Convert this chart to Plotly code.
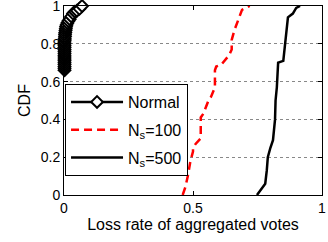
import plotly.graph_objects as go

# ---- data ----
normal_x = [0.002, 0.002, 0.002, 0.002, 0.002, 0.002, 0.002, 0.002, 0.002, 0.002,
            0.002, 0.002, 0.002, 0.002, 0.002, 0.002, 0.003, 0.003, 0.004, 0.004,
            0.005, 0.006, 0.007, 0.008, 0.010, 0.013, 0.017, 0.022, 0.028, 0.035,
            0.042, 0.050, 0.060, 0.070]
normal_y = [0.66, 0.67, 0.68, 0.69, 0.70, 0.71, 0.72, 0.73, 0.74, 0.75,
            0.76, 0.77, 0.78, 0.79, 0.80, 0.81, 0.82, 0.83, 0.84, 0.85,
            0.86, 0.87, 0.88, 0.89, 0.90, 0.91, 0.92, 0.93, 0.945, 0.96,
            0.97, 0.975, 0.985, 1.0]

n100_x = [0.46, 0.47, 0.48, 0.49, 0.50, 0.50, 0.51, 0.53, 0.53, 0.53, 0.54, 0.56,
          0.57, 0.585, 0.585, 0.59, 0.61, 0.64, 0.65, 0.65, 0.66, 0.675, 0.69, 0.72]
n100_y = [0.0, 0.04, 0.10, 0.18, 0.23, 0.25, 0.27, 0.30, 0.34, 0.41, 0.43, 0.50,
          0.52, 0.57, 0.66, 0.68, 0.69, 0.74, 0.77, 0.82, 0.87, 0.93, 0.98, 1.0]

n500_x = [0.748, 0.77, 0.78, 0.786, 0.79, 0.80, 0.81, 0.818, 0.82, 0.825, 0.83,
          0.85, 0.857, 0.864, 0.868, 0.887, 0.90, 0.915]
n500_y = [0.0, 0.04, 0.06, 0.13, 0.20, 0.25, 0.29, 0.40, 0.50, 0.57, 0.70,
          0.71, 0.80, 0.857, 0.94, 0.96, 0.99, 1.0]

x_ticks = [0, 0.5, 1]
x_ticklabels = ["0", "0.5", "1"]
y_ticks = [0, 0.2, 0.4, 0.6, 0.8, 1]
y_ticklabels = ["0", "0.2", "0.4", "0.6", "0.8", "1"]

FONT = "Liberation Sans, Arial, sans-serif"

fig = go.Figure()
fig.add_trace(go.Scatter(
    x=normal_x, y=normal_y, mode="lines+markers", name="Normal",
    legendgroup="a",
    line=dict(color="black", width=2.5),
    marker=dict(symbol="diamond", size=9, color="white",
                line=dict(color="black", width=2)),
    cliponaxis=False,
))
fig.add_trace(go.Scatter(
    x=n100_x, y=n100_y, mode="lines", name="N<sub>s</sub>=100",
    legendgroup="b",
    line=dict(color="red", width=2.5, dash="8px,5px"),
    cliponaxis=False,
))
fig.add_trace(go.Scatter(
    x=n500_x, y=n500_y, mode="lines", name="N<sub>s</sub>=500",
    legendgroup="c",
    line=dict(color="black", width=2.5),
    cliponaxis=False,
))

axis_common = dict(
    showline=True, linecolor="black", linewidth=1, mirror="ticks",
    ticks="inside", ticklen=4, tickcolor="black", zeroline=False,
    tickfont=dict(family=FONT, size=14, color="black"),
    ticklabeloverflow="allow",
)

fig.update_xaxes(
    range=[0, 1], tickvals=x_ticks, ticktext=x_ticklabels, showgrid=False,
    title=dict(text="Loss rate of aggregated votes",
               font=dict(family=FONT, size=16, color="black"), standoff=4),
    automargin=False,
    **axis_common,
)
fig.update_yaxes(
    range=[0, 1], tickvals=y_ticks, ticktext=y_ticklabels,
    showgrid=True, gridcolor="#888888", griddash="dot", gridwidth=1,
    title=dict(text="CDF", font=dict(family=FONT, size=16, color="black"), standoff=6),
    automargin=False,
    **axis_common,
)

fig.update_layout(
    width=328, height=242,
    margin=dict(l=64, r=6, t=6, b=47),
    paper_bgcolor="white", plot_bgcolor="white",
    font=dict(family=FONT, size=14, color="black"),
    showlegend=True,
    legend=dict(
        x=0.004, y=0.587, xanchor="left", yanchor="top",
        bgcolor="white", bordercolor="black", borderwidth=1,
        font=dict(family=FONT, size=16, color="black"),
        itemwidth=52, tracegroupgap=4,
    ),
)

fig.write_html("out.html",
               config={"displayModeBar": False},
               post_script="document.body.style.margin='0';document.body.style.padding='0';")
